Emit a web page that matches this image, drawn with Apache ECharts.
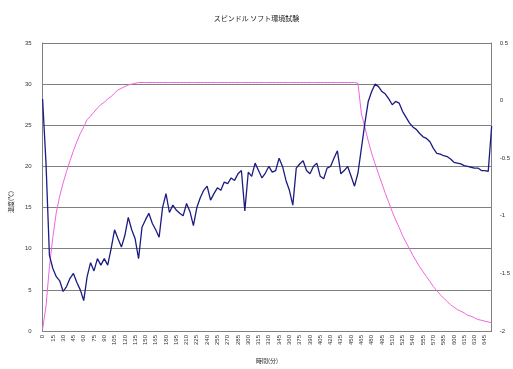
<!DOCTYPE html>
<html>
<head>
<meta charset="utf-8">
<script src="https://cdn.jsdelivr.net/npm/echarts@6/dist/echarts.min.js"></script>
<style>
  html, body { margin: 0; padding: 0; background: #fff; }
  #chart { width: 513px; height: 369px; }
</style>
</head>
<body>
<div id="chart"></div>
<script>
// measured temperature (blue, left axis)
const spindleTemp = [
  28.2, 20.4, 9.2, 7.6, 6.6, 6.1, 4.8, 5.4, 6.4, 7.0,
  5.9, 5.0, 3.7, 6.6, 8.3, 7.3, 8.8, 8.0, 8.8, 8.0,
  10.0, 12.3, 11.2, 10.2, 11.6, 13.8, 12.3, 11.2, 8.8, 12.6,
  13.5, 14.3, 13.1, 12.3, 11.4, 15.0, 16.7, 14.4, 15.3, 14.7,
  14.3, 14.0, 15.5, 14.5, 12.8, 15.0, 16.2, 17.1, 17.6, 15.9,
  16.7, 17.4, 17.1, 18.1, 17.9, 18.6, 18.3, 19.1, 19.5, 14.6,
  19.3, 18.8, 20.4, 19.5, 18.6, 19.2, 20.0, 19.3, 19.5, 21.0,
  20.0, 18.3, 17.1, 15.3, 19.8, 20.3, 20.7, 19.5, 19.1, 20.0,
  20.4, 18.8, 18.5, 19.8, 20.0, 21.0, 21.9, 19.1, 19.5, 20.0,
  18.8, 17.6, 19.2, 22.2, 25.2, 27.9, 29.1, 30.0, 29.7, 29.1,
  28.8, 28.2, 27.5, 27.9, 27.7, 26.7, 26.0, 25.3, 24.8, 24.5,
  24.0, 23.6, 23.4, 23.0, 22.2, 21.6, 21.5, 21.3, 21.2, 20.9,
  20.5, 20.4, 20.3, 20.1, 20.0, 19.9, 19.8, 19.8, 19.5, 19.5,
  19.4, 24.9
];

// set value (pink, left axis)
const setTemp = [
  0.2, 3.0, 7.8, 11.4, 14.4, 16.4, 18.0, 19.4, 20.7, 21.9,
  23.0, 24.0, 24.8, 25.7, 26.1, 26.6, 27.1, 27.5, 27.8, 28.2,
  28.5, 28.9, 29.3, 29.5, 29.7, 29.9, 30.0, 30.1, 30.2, 30.2,
  30.2, 30.2, 30.2, 30.2, 30.2, 30.2, 30.2, 30.2, 30.2, 30.2,
  30.2, 30.2, 30.2, 30.2, 30.2, 30.2, 30.2, 30.2, 30.2, 30.2,
  30.2, 30.2, 30.2, 30.2, 30.2, 30.2, 30.2, 30.2, 30.2, 30.2,
  30.2, 30.2, 30.2, 30.2, 30.2, 30.2, 30.2, 30.2, 30.2, 30.2,
  30.2, 30.2, 30.2, 30.2, 30.2, 30.2, 30.2, 30.2, 30.2, 30.2,
  30.2, 30.2, 30.2, 30.2, 30.2, 30.2, 30.2, 30.2, 30.2, 30.2,
  30.2, 30.2, 30.1, 26.4, 24.8, 23.1, 21.6, 20.3, 19.1, 17.9,
  16.7, 15.6, 14.5, 13.5, 12.6, 11.6, 10.8, 10.0, 9.2, 8.5,
  7.8, 7.2, 6.6, 6.0, 5.4, 4.9, 4.4, 4.0, 3.6, 3.2,
  2.9, 2.6, 2.4, 2.2, 1.9, 1.8, 1.6, 1.4, 1.3, 1.2,
  1.1, 1.0
];

// elapsed time labels (minutes)
const minutes = spindleTemp.map((_, i) => String(i * 5));

const chart = echarts.init(document.getElementById('chart'));

const option = {
  backgroundColor: '#fff',
  animation: false,
  title: {
    text: 'スピンドル ソフト環境試験',
    left: 'center',
    top: 10,
    textStyle: { fontSize: 7, fontWeight: 'normal', color: '#222', fontFamily: 'Noto Sans CJK JP' }
  },
  grid: { left: 35, right: 19, top: 43, bottom: 34 },
  xAxis: {
    type: 'category',
    data: minutes,
    boundaryGap: false,
    name: '時間(分)',
    nameLocation: 'middle',
    nameGap: 27,
    nameTextStyle: { fontSize: 6, color: '#222', fontFamily: 'Noto Sans CJK JP' },
    axisLine: { lineStyle: { color: '#808080' } },
    axisTick: { show: false },
    axisLabel: { interval: 2, rotate: 90, fontSize: 6, color: '#333', margin: 4 },
    splitLine: { show: false }
  },
  yAxis: [
    {
      type: 'value',
      min: 0,
      max: 35,
      interval: 5,
      name: '温度(℃)',
      nameLocation: 'middle',
      nameGap: 19,
      nameTextStyle: { fontSize: 6, color: '#222', fontFamily: 'Noto Sans CJK JP', padding: [0, 30, 0, 0] },
      axisLine: { show: true, lineStyle: { color: '#808080' } },
      axisTick: { show: false },
      axisLabel: { fontSize: 6, color: '#333', margin: 11 },
      splitLine: { lineStyle: { color: '#808080', width: 1 } }
    },
    {
      type: 'value',
      min: -2,
      max: 0.5,
      interval: 0.5,
      position: 'right',
      axisLine: { show: true, lineStyle: { color: '#808080' } },
      axisTick: { show: false },
      axisLabel: { fontSize: 6, color: '#333', margin: 8 },
      splitLine: { show: false }
    }
  ],
  series: [
    {
      name: '設定',
      type: 'line',
      data: setTemp,
      symbol: 'none',
      lineStyle: { color: '#ee66dd', width: 1 },
      z: 2
    },
    {
      name: '測定',
      type: 'line',
      data: spindleTemp,
      symbol: 'none',
      lineStyle: { color: '#1c1c82', width: 1.3 },
      z: 3
    }
  ]
};

chart.setOption(option);
</script>
</body>
</html>
